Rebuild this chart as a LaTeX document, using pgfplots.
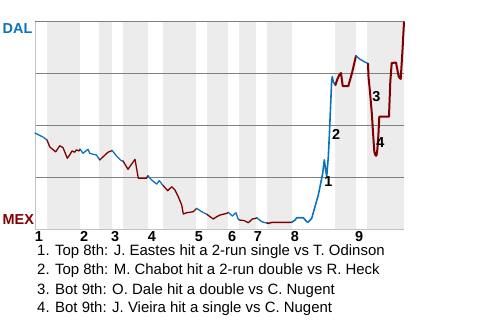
\documentclass[border=0pt]{standalone}
\usepackage{fontspec}
\setmainfont{Liberation Sans}
\usepackage{pgfplots}
\pgfplotsset{compat=1.18}
\definecolor{dalblue}{RGB}{11,114,190}
\definecolor{mexred}{RGB}{128,0,0}
\definecolor{bandgray}{RGB}{236,236,236}
\definecolor{gridgray}{RGB}{128,128,128}
\definecolor{axisgray}{RGB}{195,195,195}
\begin{document}
\begin{tikzpicture}
\path (0bp,0bp) rectangle (480bp,320bp);
\begin{axis}[
  set layers,
  at={(35bp,90bp)}, anchor=south west,
  width=369bp, height=208bp, scale only axis,
  xmin=35, xmax=404, ymin=0, ymax=100,
  clip=false,
  axis lines=left,
  axis line style={-, axisgray, line width=1bp},
  ytick={25,50,75,100}, yticklabels={},
  ymajorgrids, grid style={gridgray, line width=1bp},
  major tick length=0pt,
  xtick={39,84.2,115.2,151.8,198.8,232.2,257.8,295,359.2},
  xticklabels={1,2,3,4,5,6,7,8,9},
  xticklabel style={font=\bfseries\fontsize{14.5}{14.5}\selectfont, inner sep=1bp},
  every axis plot/.append style={line join=round, line cap=round},
]
% half-inning bands (bottom halves)
\addplot[on layer=axis background, fill=bandgray, draw=none] coordinates {(47,100)(80,100)} \closedcycle;
\addplot[on layer=axis background, fill=bandgray, draw=none] coordinates {(99,100)(112,100)} \closedcycle;
\addplot[on layer=axis background, fill=bandgray, draw=none] coordinates {(123,100)(148,100)} \closedcycle;
\addplot[on layer=axis background, fill=bandgray, draw=none] coordinates {(163,100)(196,100)} \closedcycle;
\addplot[on layer=axis background, fill=bandgray, draw=none] coordinates {(207,100)(228,100)} \closedcycle;
\addplot[on layer=axis background, fill=bandgray, draw=none] coordinates {(239,100)(256,100)} \closedcycle;
\addplot[on layer=axis background, fill=bandgray, draw=none] coordinates {(267,100)(292,100)} \closedcycle;
\addplot[on layer=axis background, fill=bandgray, draw=none] coordinates {(335,100)(356,100)} \closedcycle;
\addplot[on layer=axis background, fill=bandgray, draw=none] coordinates {(367,100)(404,100)} \closedcycle;
% win probability (DAL %), coloured by half-inning
\addplot[dalblue, line width=1.3bp] coordinates {(35,46.6)(43,44.7)(47,43.3)};
\addplot[mexred, line width=1.3bp] coordinates {(47,43.3)(49.7,40.0)(51.3,39.3)(55.7,37.6)(59.7,40.5)(63,39.6)(67.3,34.5)(69.7,36.1)(72,38.0)(74.7,37.4)(76.3,38.5)(79,38.0)(80,38.9)};
\addplot[dalblue, line width=1.3bp] coordinates {(80,38.9)(83,36.9)(88,38.8)(89.7,36.9)(93,36.4)(96.3,36.1)(99.7,33.7)};
\addplot[mexred, line width=1.3bp] coordinates {(99.7,33.7)(104,35.6)(108,37.4)(111.7,38.1)(112,38.3)};
\addplot[dalblue, line width=1.3bp] coordinates {(112,38.3)(116.3,35.7)(121.3,33.3)(123,33.2)};
\addplot[mexred, line width=1.3bp] coordinates {(123,33.2)(128,29.2)(135,34.0)(138.3,24.9)(146.7,24.9)(147.7,26.2)};
\addplot[dalblue, line width=1.3bp] coordinates {(147.7,26.2)(151.7,24.0)(156.7,22.1)(159.3,23.7)(163,21.4)};
\addplot[mexred, line width=1.3bp] coordinates {(163,21.4)(167.7,18.9)(171.7,20.8)(175,19.2)(178.3,16.0)(181.7,12.0)(183.3,7.7)(186.7,8.3)(193.3,8.8)(196.7,10.4)};
\addplot[dalblue, line width=1.3bp] coordinates {(196.7,10.4)(201.7,8.8)(207,7.5)};
\addplot[mexred, line width=1.3bp] coordinates {(207,7.5)(210,6.4)(213.3,5.3)(216.7,6.4)(220,7.2)(226.7,8.0)(228.3,8.5)};
\addplot[dalblue, line width=1.3bp] coordinates {(228.3,8.5)(232.3,6.7)(236,8.3)(238.3,5.1)(239.5,4.8)};
\addplot[mexred, line width=1.3bp] coordinates {(239.5,4.8)(244.3,4.5)(248.3,3.5)(252.3,5.3)(255.7,5.6)(256.7,5.9)};
\addplot[dalblue, line width=1.3bp] coordinates {(256.7,5.9)(261.7,4.0)(265,3.5)(267,3.4)};
\addplot[mexred, line width=1.5bp] coordinates {(267,3.4)(268.3,3.2)(272.3,3.7)(291.7,3.7)};
\addplot[dalblue, line width=1.6bp] coordinates {(291.7,3.7)(295,4.8)(296.7,5.9)(303.3,5.9)(306.7,4.0)(308.3,3.8)(311.7,5.6)(315,11.2)(318.3,16.8)(320.7,22.5)(322.7,27.3)(324.3,33.7)(325.7,28.8)(326.7,25.6)(328.3,35.2)(329.3,44.9)(330.7,60.9)(331.7,72.1)(332.3,73.7)(333.3,71.3)(334.3,70.5)(335.5,69.7)};
\addplot[mexred, line width=2bp] coordinates {(335.5,69.7)(337,72.1)(339.3,74.5)(341,75.5)(342.7,69.2)(348.3,69.2)(352,75.5)(356,83.7)};
\addplot[dalblue, line width=1.4bp] coordinates {(356,83.7)(360,82.1)(364,81.0)(368,80.0)};
\addplot[mexred, line width=2bp] coordinates {(368,80.0)(368.5,73.7)(370,66.3)(371.7,56.7)(373.3,44.9)(374.3,37.6)(375.5,35.8)(376.5,35.8)(377.3,38.5)(378.3,44.9)(379.3,54.5)(389,54.5)(389.3,58.7)(390.3,71.3)(391.7,80.3)(396,80.5)(398.7,73.7)(400.7,72.6)(402.5,86.5)(404,100)};
% event markers
\node[font=\bfseries\fontsize{14.5}{14.5}\selectfont, inner sep=0pt] at (axis cs:328.5,23.3) {1};
\node[font=\bfseries\fontsize{14.5}{14.5}\selectfont, inner sep=0pt] at (axis cs:336.2,45.8) {2};
\node[font=\bfseries\fontsize{14.5}{14.5}\selectfont, inner sep=0pt] at (axis cs:376.5,64.3) {3};
\node[font=\bfseries\fontsize{14.5}{14.5}\selectfont, inner sep=0pt] at (axis cs:380.3,42.1) {4};
\end{axis}
\node[anchor=west, inner sep=0pt, text=dalblue, font=\bfseries\fontsize{14.5}{14.5}\selectfont] at (2.5bp,291bp) {DAL};
\node[anchor=west, inner sep=0pt, text=mexred, font=\bfseries\fontsize{14.5}{14.5}\selectfont] at (2.5bp,100.3bp) {MEX};
\begin{scope}[every node/.style={anchor=base west, inner sep=0pt, font=\fontsize{15}{15}\selectfont}]
\node at (37bp,64.3bp) {1. Top 8th: J. Eastes hit a 2-run single vs T. Odinson};
\node at (37bp,45bp) {2. Top 8th: M. Chabot hit a 2-run double vs R. Heck};
\node at (37bp,26bp) {3. Bot 9th: O. Dale hit a double vs C. Nugent};
\node at (37bp,7.3bp) {4. Bot 9th: J. Vieira hit a single vs C. Nugent};
\end{scope}
\end{tikzpicture}
\end{document}
